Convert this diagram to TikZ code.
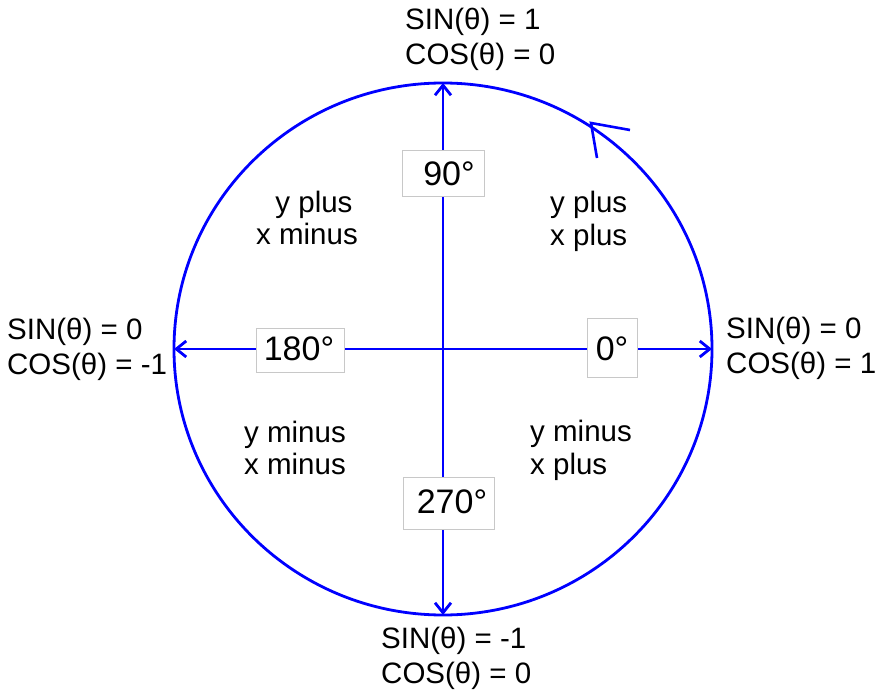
\documentclass[tikz,border=0pt]{standalone}
\usepackage{fontspec}
\setmainfont{Liberation Sans}
\usetikzlibrary{arrows.meta}
\definecolor{axisblue}{RGB}{0,0,255}
\definecolor{boxgray}{RGB}{200,200,200}
\begin{document}
\begin{tikzpicture}[x=1pt,y=-1pt,
  axis/.style={draw=axisblue,line width=2.8pt},
  axarrow/.style={axis,-{Straight Barb[length=10pt,width=16pt]}},
  lab/.style={font=\fontsize{29.5}{34}\selectfont,inner sep=0pt,anchor=base west},
  clab/.style={lab,anchor=base},
  degbox/.style={draw=boxgray,line width=1pt,fill=white,inner sep=0pt},
  degtext/.style={font=\fontsize{34}{40}\selectfont,inner sep=0pt,anchor=base}
]
\useasboundingbox (0,0) rectangle (886,695);
\fill[white] (0,0) rectangle (886,695);

% circle and axes
\coordinate (O) at (443,349);
\coordinate (top) at (443,83);
\coordinate (bottom) at (443,615);
\coordinate (left) at (174,349);
\coordinate (right) at (712,349);
\draw[axis] (O) ellipse [x radius=269, y radius=266];
\draw[axarrow] (O) -- (top);
\draw[axarrow] (O) -- (bottom);
\draw[axarrow] (O) -- (left);
\draw[axarrow] (O) -- (right);

% direction arrowhead on circle
\coordinate (tip) at (591,123);
\coordinate (armA) at (630,130);
\coordinate (armB) at (597,158);
\draw[axis,line width=2.6pt] (armA) -- (tip) -- (armB);

% degree boxes
\node[degbox,minimum width=82pt,minimum height=46pt] (b90) at (443,174) {};
\node[degtext] (t90) at (449,186) {90°};
\node[degbox,minimum width=88pt,minimum height=44pt] (b180) at (300,350) {};
\node[degtext] (t180) at (299,360) {180°};
\node[degbox,minimum width=50pt,minimum height=59pt] (b0) at (612,347.5) {};
\node[degtext] (t0) at (612,360) {0°};
\node[degbox,minimum width=91pt,minimum height=52pt] (b270) at (448.5,503) {};
\node[degtext] (t270) at (452,513) {270°};

% edge labels
\node[lab] (ts) at (405,30) {SIN(θ) = 1};
\node[lab] (tc) at (405,65) {COS(θ) = 0};
\node[lab] (bs) at (381,648) {SIN(θ) = -1};
\node[lab] (bc) at (381,683) {COS(θ) = 0};
\node[lab] (rs) at (726,338) {SIN(θ) = 0};
\node[lab] (rc) at (726,373) {COS(θ) = 1};
\node[lab] (ls) at (7,339) {SIN(θ) = 0};
\node[lab] (lc) at (7,374) {COS(θ) = -1};

% quadrant labels
\node[clab] (q2a) at (314,212) {y plus};
\node[clab] (q2b) at (307,244) {x minus};
\node[lab] (q1a) at (550,212) {y plus};
\node[lab] (q1b) at (550,245) {x plus};
\node[lab] (q3a) at (244,442) {y minus};
\node[lab] (q3b) at (244,474) {x minus};
\node[lab] (q4a) at (530,441) {y minus};
\node[lab] (q4b) at (530,474) {x plus};
\end{tikzpicture}
\end{document}
